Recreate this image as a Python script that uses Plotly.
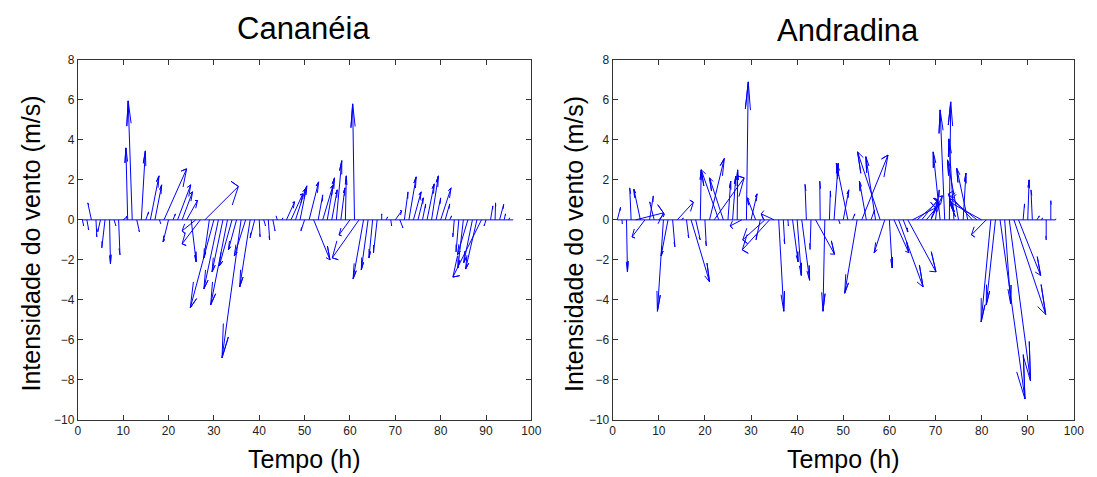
import plotly.graph_objects as go

# ---------------- data ----------------
hours = list(range(1, 97))

cananeia_u = [0.3, 0.4, -0.8, 0.2, -0.6, -0.7, 0.2, 0.4, 0.3, 0.8,
              -0.4, -0.9, 0.6, 0.9, 0.6, 1.9, 1.5, 0.3, 5.0, -1.2,
              0.5, 2.9, 2.3, 2.4, 1.1, -3.0, -4.0, 7.4, -1.2, -5.2,
              -3.2, -2.4, -3.7, -2.8, -1.8, -4.2, -2.5, -2.3, -1.0, 0.2,
              0.4, 0.3, 0.5, -0.3, 0.2, 1.8, 2.6, 2.2, 1.5, -0.8,
              2.1, 3.6, 1.0, 2.3, 1.6, 1.2, 1.2, 0.9, 0.2, -2.4,
              -0.4, -5.9, -2.3, -1.5, -0.8, -0.8, 0.0, 0.3, 0.2, 1.4,
              0.7, 0.8, 1.6, 1.7, 1.2, 0.7, 1.6, 1.5, 1.0, 2.3,
              1.0, 0.4, -0.3, -0.6, -1.2, -2.3, -1.9, -2.5, -6.3, -0.4,
              0.5, 0.1, 0.9, 0.3, 0.2, 0.0]
cananeia_v = [-0.3, -0.5, 0.85, -0.85, -0.6, -1.4, -2.2, -0.3, -1.75, 0.15,
              3.6, 5.95, -0.6, 3.45, 0.4, 2.2, 1.75, -0.2, 2.55, -1.1,
              0.3, 1.75, 1.4, 0.97, -2.1, -0.55, -1.2, 1.67, -1.9, -4.4,
              -3.45, -2.6, -4.25, -2.3, -1.5, -6.9, -1.8, -3.35, -0.9, -0.85,
              -0.3, -1.0, -0.55, 0.2, 0.1, 0.9, 1.3, 1.55, 1.7, -0.55,
              1.9, -2.0, 1.25, 1.75, 2.1, 1.5, 2.96, 1.6, 2.2, -0.75,
              5.8, -1.9, -2.95, -2.5, -1.9, -1.65, 0.3, 0.15, -0.3, 0.45,
              -0.4, 1.4, 2.15, 1.4, 1.1, 0.8, 1.8, 2.2, 1.1, 1.6,
              0.8, 0.2, -0.85, -1.6, -2.4, -1.75, -2.14, -2.46, -2.86, -0.3,
              0.7, 0.85, 0.78, 0.3, 0.1, 0.0]

andradina_u = [0.7, 0.1, 0.2, -0.3, 6.0, -1.4, -2.8, 0.8, -1.0, 1.2,
               -1.3, -1.5, 0.5, 3.5, 0.3, 0.5, 4.0, 1.0, 0.2, 0.3,
               3.2, 6.5, -3.8, -3.0, 0.6, 0.7, 0.1, -2.5, 0.4, 1.3,
               -1.8, -0.9, -4.8, -5.9, -2.8, 1.1, 0.3, 0.1, 1.2, 0.9,
               1.7, -0.3, -0.2, 4.1, -0.1, -0.4, 0.2, 0.9, 0.3, 1.2,
               -2.5, 0.5, -2.7, 5.7, -1.5, 0.8, -2.1, -4.9, -2.3, 0.6,
               3.2, 5.3, 1.0, 6.1, 5.0, 4.5, 3.5, 2.9, 2.5, 0.8,
               -1.5, -1.0, 0.3, -1.1, -2.4, 0.6, -2.4, -5.2, -6.0, -7.0,
               -3.2, -2.1, -2.0, 5.4, 1.3, 4.6, 6.9, 4.8, 0.3, 0.3,
               -0.3, 0.5, 0.2, 0.0, 0.0, 0.1]
andradina_v = [0.63, -0.2, -2.6, 1.6, 0.35, 1.53, -0.85, 1.2, 0.9, 0.3,
               -4.57, -1.8, -1.35, 0.88, 0.1, -0.9, -3.1, -1.0, 2.5, -1.3,
               3.07, 2.1, 2.5, 2.1, 1.94, 2.18, 2.5, -0.3, 6.9, 1.3,
               1.1, -1.0, -1.0, -1.5, 0.3, -4.57, -1.2, -0.3, -2.1, -2.78,
               -3.02, 1.78, -1.48, -1.72, 1.94, -4.57, 1.45, 2.83, -0.2, 1.5,
               2.83, 0.3, -3.67, 3.24, 1.94, 0.5, 3.16, 3.4, -1.64, -2.4,
               -1.64, -3.35, -0.6, -2.6, 0.6, 0.9, 1.0, 0.8, 1.2, 1.5,
               3.4, 5.5, 5.9, 4.05, 3.0, 2.34, 2.58, 1.3, 1.1, 0.9,
               -0.75, -5.1, -4.25, -8.96, -4.2, -8.06, -4.73, -2.78, 0.8, 2.0,
               1.5, 0.2, 0.1, -1.0, 0.96, 0.05]

titles = ["Cananéia", "Andradina"]
x_label = "Tempo (h)"
y_label = "Intensidade do vento (m/s)"
x_ticks = [0, 10, 20, 30, 40, 50, 60, 70, 80, 90, 100]
y_ticks = [-10, -8, -6, -4, -2, 0, 2, 4, 6, 8]

# ---------------- feather geometry (MATLAB style) ----------------
ARROW = [0, 1, 0.8 + 0.08j, 1, 0.8 - 0.08j]


def feather(t, u, v):
    xs, ys = [], []
    for ti, ui, vi in zip(t, u, v):
        z = complex(ui, vi)
        for p in ARROW:
            w = z * p
            xs.append(ti + w.real)
            ys.append(w.imag)
        xs.append(None)
        ys.append(None)
    return xs, ys


W, H = 1097, 477
BLUE = "#0000FF"
FONT = "Arial, Liberation Sans, sans-serif"

fig = go.Figure()

series = [(cananeia_u, cananeia_v), (andradina_u, andradina_v)]
for i, (u, v) in enumerate(series):
    xa = "x" if i == 0 else "x2"
    ya = "y" if i == 0 else "y2"
    fig.add_trace(go.Scatter(x=[hours[0], hours[-1]], y=[0, 0], mode="lines",
                             line=dict(color=BLUE, width=1), xaxis=xa, yaxis=ya,
                             showlegend=False, hoverinfo="skip"))
    fx, fy = feather(hours, u, v)
    fig.add_trace(go.Scatter(x=fx, y=fy, mode="lines",
                             line=dict(color=BLUE, width=1), xaxis=xa, yaxis=ya,
                             showlegend=False, connectgaps=False))

# pixel geometry of the two axes boxes
boxes = [(75.7, 534.7), (617.0, 1083.7)]
y_top, y_bot = 54.5, 425.3
ydom = [(H - y_bot) / H, (H - y_top) / H]

axis_common = dict(showgrid=False, zeroline=False, showline=True, linecolor="#333333",
                   linewidth=1, mirror="ticks", ticks="inside", ticklen=5,
                   tickcolor="#333333", tickfont=dict(family=FONT, size=12, color="#222222"))

layout = dict(width=W, height=H, margin=dict(l=0, r=0, t=0, b=0),
              paper_bgcolor="white", plot_bgcolor="white", showlegend=False)

for i, (x0, x1) in enumerate(boxes):
    sx = "" if i == 0 else "2"
    layout["xaxis" + sx] = dict(domain=[x0 / W, x1 / W], range=[0, 100], tickvals=x_ticks,
                                anchor="y" + sx, **axis_common)
    layout["yaxis" + sx] = dict(domain=ydom, range=[-10, 8], tickvals=y_ticks,
                                anchor="x" + sx, **axis_common)

fig.update_layout(**layout)

ann = []
title_centers = [(304, 22), (855, 24)]
ylab_x = [28, 578]
for i, (x0, x1) in enumerate(boxes):
    cx = (x0 + x1) / 2
    ann.append(dict(text=titles[i], x=title_centers[i][0] / W, y=(H - title_centers[i][1]) / H,
                    xref="paper", yref="paper", showarrow=False, xanchor="center", yanchor="middle",
                    font=dict(family=FONT, size=31, color="black")))
    ann.append(dict(text=x_label, x=cx / W, y=(H - 466) / H, xref="paper", yref="paper",
                    showarrow=False, xanchor="center", yanchor="middle",
                    font=dict(family=FONT, size=25, color="black")))
    ann.append(dict(text=y_label, x=ylab_x[i] / W, y=(H - 244) / H, xref="paper", yref="paper",
                    showarrow=False, xanchor="center", yanchor="middle", textangle=-90,
                    font=dict(family=FONT, size=25, color="black")))
fig.update_layout(annotations=ann)

fig.write_html("out.html")
